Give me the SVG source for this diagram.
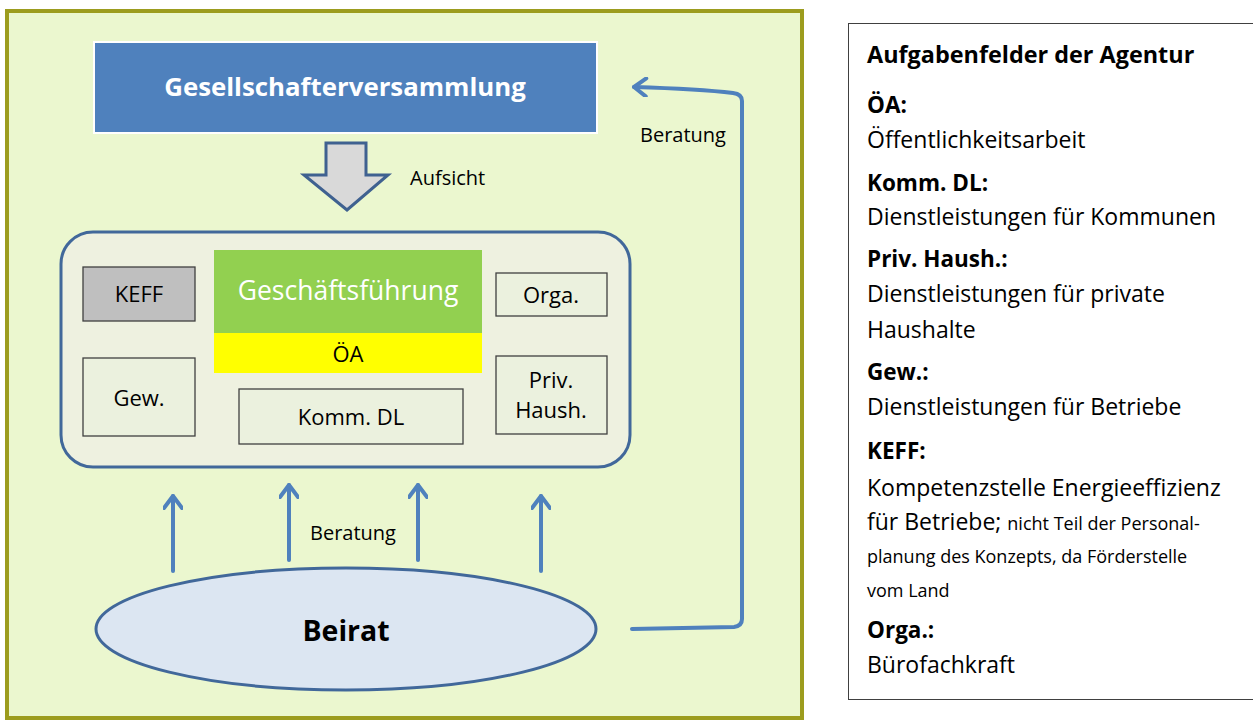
<svg xmlns="http://www.w3.org/2000/svg" width="1253" height="722" viewBox="0 0 1253 722">
<defs>
<style>
text{font-family:"Open Sans","Noto Sans","Liberation Sans",sans-serif;fill:#000}
.box{fill:#EBF1DE;stroke:#404040;stroke-width:1.3}
.lbl{font-size:22px;text-anchor:middle}
.small{font-size:18px}
.rp{font-size:23px}
.rpb{font-size:22.5px;font-weight:bold}
.head{font-size:23.4px;font-weight:bold}
.con{fill:none;stroke:#4F81BD;stroke-width:4;stroke-linecap:round;stroke-linejoin:round}
</style>
<marker id="ah" viewBox="0 0 20 20" refX="16" refY="10" markerWidth="20" markerHeight="20" markerUnits="userSpaceOnUse" orient="auto">
<path d="M4,1 L16,10 L4,19" fill="none" stroke="#4F81BD" stroke-width="4" stroke-linecap="round" stroke-linejoin="round"/>
</marker>
</defs>
<rect x="0" y="0" width="1253" height="722" fill="#FFFFFF"/>
<g id="frame">
<rect x="7" y="11" width="795" height="707" fill="#EBF7CF" stroke="#9C9C1E" stroke-width="4"/>
</g>
<g id="gesellschafterversammlung">
<rect x="94" y="42" width="503" height="91" fill="#4F81BD" stroke="#FFFFFF" stroke-width="2"/>
<text x="345" y="96" font-size="25.8" font-weight="bold" text-anchor="middle" style="fill:#FFFFFF">Gesellschafterversammlung</text>
</g>
<g id="aufsicht">
<path d="M326,143 L366,143 L366,175 L388,175 L347,210 L304,175 L326,175 Z" fill="#D9D9D9" stroke="#3F6190" stroke-width="3" stroke-linejoin="miter"/>
<text x="410" y="185" font-size="20">Aufsicht</text>
</g>
<g id="agentur">
<rect x="61" y="232" width="569" height="235" rx="32" ry="32" fill="#EEF1E0" stroke="#41689A" stroke-width="3"/>
</g>
<g id="keff">
<rect x="83" y="267" width="112" height="54" fill="#BFBFBF" stroke="#404040" stroke-width="1.3"/>
<text class="lbl" x="139" y="302">KEFF</text>
</g>
<g id="geschaeftsfuehrung">
<rect x="214" y="250" width="268" height="83" fill="#92D050"/>
<text x="348" y="300" font-size="26.5" text-anchor="middle" style="fill:#FFFFFF">Geschäftsführung</text>
</g>
<g id="oea">
<rect x="214" y="333" width="268" height="40" fill="#FFFF00"/>
<text class="lbl" x="348" y="362">ÖA</text>
</g>
<g id="orga">
<rect class="box" x="496" y="273" width="111" height="43"/>
<text class="lbl" x="551" y="303">Orga.</text>
</g>
<g id="gew">
<rect class="box" x="83" y="358" width="112" height="78"/>
<text class="lbl" x="139" y="406">Gew.</text>
</g>
<g id="kommdl">
<rect class="box" x="239" y="389" width="224" height="55"/>
<text class="lbl" x="351" y="425">Komm. DL</text>
</g>
<g id="privhaush">
<rect class="box" x="496" y="356" width="111" height="78"/>
<text class="lbl" x="551" y="388">Priv.</text>
<text class="lbl" x="551" y="418">Haush.</text>
</g>
<g id="beirat">
<ellipse cx="346" cy="629" rx="250" ry="61" fill="#DCE6F2" stroke="#41689A" stroke-width="3"/>
<text x="346" y="641" font-size="28.5" font-weight="bold" text-anchor="middle">Beirat</text>
</g>
<g id="connectors">
<line class="con" x1="173" y1="571" x2="173" y2="496" marker-end="url(#ah)"/>
<line class="con" x1="289" y1="560" x2="289" y2="485" marker-end="url(#ah)"/>
<line class="con" x1="418" y1="560" x2="418" y2="485" marker-end="url(#ah)"/>
<line class="con" x1="541" y1="571" x2="541" y2="496" marker-end="url(#ah)"/>
<path class="con" d="M632,629 L734,627 Q742,626 742,619 L742,101 Q742,94 733,93 Q700,89 634,87" marker-end="url(#ah)"/>
<text x="353" y="540" font-size="20" text-anchor="middle">Beratung</text>
<text x="640" y="142" font-size="20">Beratung</text>
</g>
<g id="legende">
<rect x="848.5" y="23.5" width="410" height="676" fill="#FFFFFF" stroke="#404040" stroke-width="1"/>
<text class="head" x="867" y="63">Aufgabenfelder der Agentur</text>
<text class="rpb" x="867" y="113">ÖA:</text>
<text class="rp" x="867" y="148">Öffentlichkeitsarbeit</text>
<text class="rpb" x="867" y="191">Komm. DL:</text>
<text class="rp" x="867" y="225">Dienstleistungen für Kommunen</text>
<text class="rpb" x="867" y="267">Priv. Haush.:</text>
<text class="rp" x="867" y="302">Dienstleistungen für private</text>
<text class="rp" x="867" y="338">Haushalte</text>
<text class="rpb" x="867" y="380">Gew.:</text>
<text class="rp" x="867" y="415">Dienstleistungen für Betriebe</text>
<text class="rpb" x="867" y="459">KEFF:</text>
<text class="rp" x="867" y="496">Kompetenzstelle Energieeffizienz</text>
<text class="rp" x="867" y="530">für Betriebe; <tspan class="small">nicht Teil der Personal-</tspan></text>
<text class="small" x="867" y="563">planung des Konzepts, da Förderstelle</text>
<text class="small" x="867" y="597">vom Land</text>
<text class="rpb" x="867" y="638">Orga.:</text>
<text class="rp" x="867" y="673">Bürofachkraft</text>
</g>
</svg>
